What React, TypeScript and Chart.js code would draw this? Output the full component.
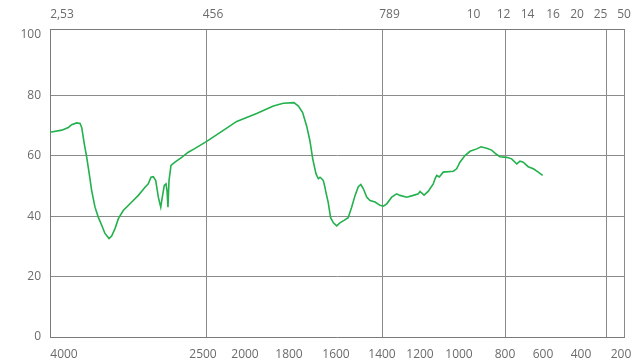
import React, { useEffect, useRef } from 'react';
import { Chart, registerables } from 'chart.js';

Chart.register(...registerables);

// Spectrum: wavenumber (cm-1) and transmittance (%)
const WAVENUMBER = [
  4000, 3888, 3825, 3793, 3745, 3713, 3697, 3672, 3649, 3625, 3602, 3570, 3539, 3506, 3475, 3436,
  3411, 3379, 3347, 3300, 3219, 3156, 3092, 3061, 3035, 3013, 2990, 2965, 2942, 2927, 2908, 2892,
  2882, 2873, 2863, 2844, 2806, 2742, 2679, 2622, 2503, 2241, 2109, 1947, 1871, 1826, 1779, 1760,
  1742, 1725, 1711, 1699, 1685, 1675, 1668, 1661, 1654, 1647, 1643, 1633, 1623, 1611, 1597, 1583,
  1565, 1547, 1532, 1517, 1503, 1492, 1481, 1466, 1452, 1430, 1409, 1393, 1375, 1349, 1323, 1305,
  1270, 1235, 1209, 1200, 1179, 1157, 1149, 1132, 1123, 1114, 1101, 1081, 1029, 1012, 996, 974,
  952, 923, 904, 880, 858, 839, 822, 791, 765, 738, 721, 704, 678, 651, 625, 602,
];
const TRANSMITTANCE = [
  67.8, 68.5, 69.4, 70.3, 70.9, 70.7, 69.4, 63.9, 59.5, 54, 48.5, 43, 39.7, 37, 34.3, 32.6,
  33.4, 35.9, 39.2, 41.9, 44.7, 46.9, 49.6, 50.7, 52.9, 53.1, 51.8, 46.3, 43, 46.3, 50.2, 50.7,
  48.5, 43, 51.8, 56.8, 57.9, 59.5, 61.2, 62.3, 64.8, 69.2, 71.4, 74, 76.5, 77.4, 77.6, 76.5,
  74.3, 69.9, 65, 59, 54, 52.4, 52.9, 52.4, 51.8, 49.6, 48, 44.5, 39.5, 37.8, 36.8, 37.8,
  38.6, 39.5, 43, 46.9, 49.8, 50.5, 49.1, 46.3, 45.2, 44.7, 43.6, 43.3, 44.1, 46.3, 47.4, 46.9,
  46.3, 46.9, 47.4, 48.2, 47.0, 48.3, 49.1, 50.7, 52.4, 53.5, 53, 54.6, 54.9, 55.7, 57.9, 60.1,
  61.5, 62.3, 63, 62.5, 61.9, 60.6, 59.7, 59.5, 59, 57.3, 58.2, 57.9, 56.4, 55.7, 54.6, 53.5,
];

// Non-linear wavenumber axis definition (anchor wavenumbers and their axis positions)
const AXIS_WN = [4000, 2500, 2000, 1800, 1600, 1400, 1200, 1000, 800, 600, 400, 200];
const AXIS_POS = [0, 157, 195, 239, 286, 332, 370, 409, 455, 493, 531, 571];
const AXIS_END = 574;

// Bottom tick labels and where they sit on the axis
const BOTTOM_LABELS = ['4000', '2500', '2000', '1800', '1600', '1400', '1200', '1000', '800', '600', '400', '200'];
const BOTTOM_LABEL_POS = [14, 153, 195, 239, 286, 332, 370, 409, 455, 493, 531, 571];
// Vertical grid lines
const GRID_POS = [157, 332, 455, 556, 574];

// Top (wavelength, µm) labels
const TOP_LABELS = ['2,53', '456', '789', '10', '12', '14', '16', '20', '25', '50'];
const TOP_LABEL_POS = [12, 163, 339.5, 423.5, 453.5, 477.5, 503, 527, 550.5, 574];

const Y_TICKS = [0, 20, 40, 60, 80, 100];

const LINE_COLOR = '#22b14c';
const GRID_COLOR = '#8a8a8a';
const BORDER_COLOR = '#7a7a7a';
const TEXT_COLOR = '#6b6b6b';
const FONT = { family: "'Open Sans', sans-serif", size: 12 };

function toPos(wn: number): number {
  for (let i = 0; i < AXIS_WN.length - 1; i++) {
    const a = AXIS_WN[i];
    const b = AXIS_WN[i + 1];
    if (wn <= a && wn >= b) {
      return AXIS_POS[i] + ((a - wn) / (a - b)) * (AXIS_POS[i + 1] - AXIS_POS[i]);
    }
  }
  const n = AXIS_WN.length - 1;
  return AXIS_POS[n] + ((AXIS_WN[n] - wn) / (AXIS_WN[n - 1] - AXIS_WN[n])) * (AXIS_POS[n] - AXIS_POS[n - 1]);
}

export default function App() {
  const ref = useRef<HTMLCanvasElement | null>(null);

  useEffect(() => {
    if (!ref.current) return;
    const points = WAVENUMBER.map((wn, i) => ({ x: toPos(wn), y: TRANSMITTANCE[i] }));

    const bottomMap = new Map<number, string>();
    BOTTOM_LABEL_POS.forEach((p, i) => bottomMap.set(p, BOTTOM_LABELS[i]));
    const bottomTickValues = Array.from(new Set([...BOTTOM_LABEL_POS, ...GRID_POS])).sort((a, b) => a - b);

    const topMap = new Map<number, string>();
    TOP_LABEL_POS.forEach((p, i) => topMap.set(p, TOP_LABELS[i]));

    const chart = new Chart(ref.current, {
      type: 'line',
      data: {
        datasets: [
          {
            data: points,
            borderColor: LINE_COLOR,
            borderWidth: 1.6,
            pointRadius: 0,
            tension: 0,
            fill: false,
            xAxisID: 'x',
            yAxisID: 'y',
          },
        ],
      },
      options: {
        responsive: false,
        animation: false,
        layout: { padding: { left: 0, right: 13, top: 0, bottom: 0 } },
        plugins: { legend: { display: false }, tooltip: { enabled: false } },
        scales: {
          x: {
            type: 'linear',
            position: 'bottom',
            min: 0,
            max: AXIS_END,
            afterBuildTicks: (s: any) => {
              s.ticks = bottomTickValues.map((v) => ({ value: v }));
            },
            afterFit: (s: any) => {
              s.height = 26;
              s.paddingLeft = 0;
              s.paddingRight = 0;
            },
            ticks: {
              autoSkip: false,
              maxRotation: 0,
              minRotation: 0,
              padding: 10,
              color: TEXT_COLOR,
              font: FONT,
              callback: (v: any) => bottomMap.get(Number(v)) ?? '',
            },
            grid: {
              drawTicks: false,
              lineWidth: 1,
              color: (ctx: any) =>
                ctx.tick && GRID_POS.includes(ctx.tick.value) ? GRID_COLOR : 'rgba(0,0,0,0)',
            },
            border: { display: true, color: BORDER_COLOR, width: 1 },
          },
          xTop: {
            type: 'linear',
            position: 'top',
            min: 0,
            max: AXIS_END,
            afterBuildTicks: (s: any) => {
              s.ticks = TOP_LABEL_POS.map((v) => ({ value: v }));
            },
            afterFit: (s: any) => {
              s.height = 29;
              s.paddingLeft = 0;
              s.paddingRight = 0;
            },
            ticks: {
              autoSkip: false,
              maxRotation: 0,
              minRotation: 0,
              padding: 7,
              color: TEXT_COLOR,
              font: FONT,
              callback: (v: any) => topMap.get(Number(v)) ?? '',
            },
            grid: { display: false, drawTicks: false },
            border: { display: true, color: BORDER_COLOR, width: 1 },
          },
          y: {
            type: 'linear',
            min: 0,
            max: 102,
            afterBuildTicks: (s: any) => {
              s.ticks = Y_TICKS.map((v) => ({ value: v }));
            },
            afterFit: (s: any) => {
              s.width = 50;
              s.paddingTop = 0;
              s.paddingBottom = 0;
            },
            ticks: {
              padding: 9,
              color: TEXT_COLOR,
              font: FONT,
              callback: (v: any) => String(v),
            },
            grid: {
              drawTicks: false,
              lineWidth: 1,
              color: (ctx: any) =>
                ctx.tick && ctx.tick.value > 0 && ctx.tick.value < 100 ? GRID_COLOR : 'rgba(0,0,0,0)',
            },
            border: { display: true, color: BORDER_COLOR, width: 1 },
          },
        },
      },
    } as any);

    return () => chart.destroy();
  }, []);

  return (
    <div style={{ position: 'absolute', left: 0, top: 0, width: 637, height: 363, background: '#fff' }}>
      <canvas ref={ref} width={637} height={363} style={{ display: 'block' }} />
    </div>
  );
}
